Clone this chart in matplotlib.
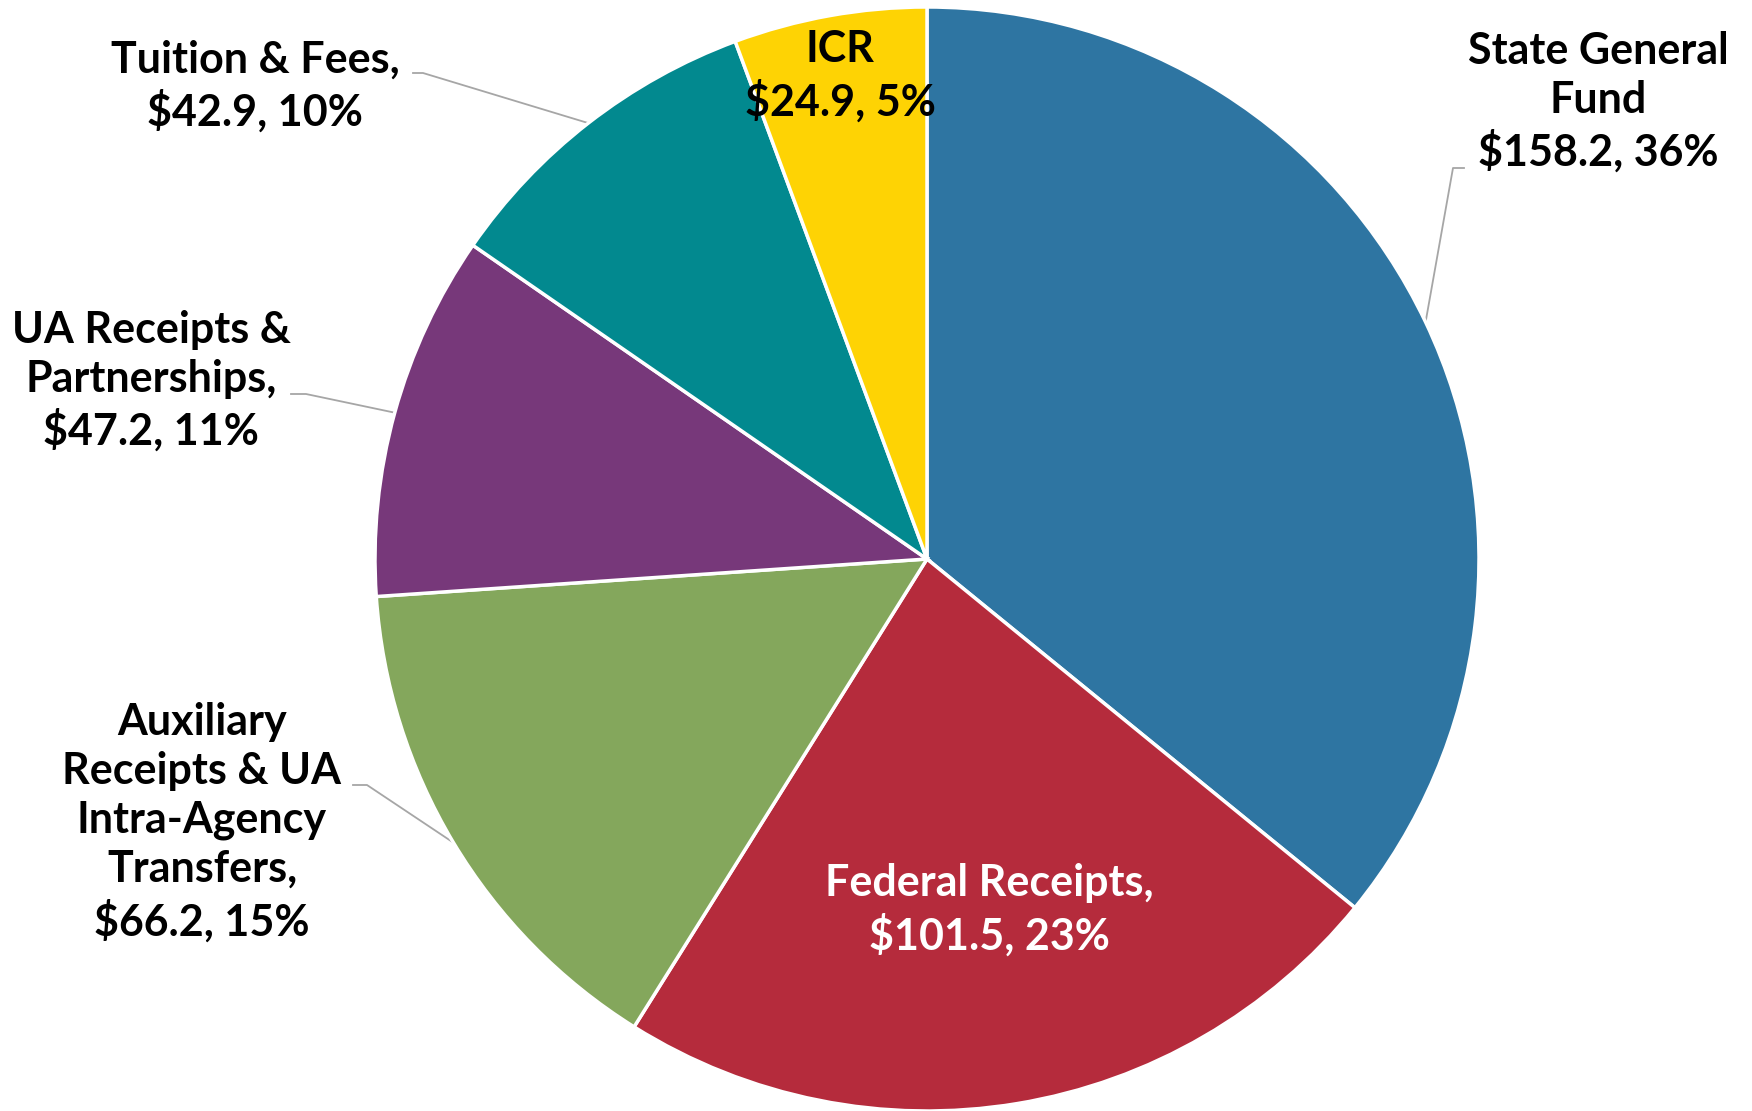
import numpy as np
import matplotlib.pyplot as plt

# revenue sources ($ millions)
sources = ["State General Fund", "Federal Receipts",
           "Auxiliary Receipts & UA Intra-Agency Transfers",
           "UA Receipts & Partnerships", "Tuition & Fees", "ICR"]
amounts = [158.2, 101.5, 66.2, 47.2, 42.9, 24.9]
pct_labels = ["36%", "23%", "15%", "11%", "10%", "5%"]
label_names = ["State General\nFund", "Federal Receipts,",
               "Auxiliary\nReceipts & UA\nIntra-Agency\nTransfers,",
               "UA Receipts &\nPartnerships,", "Tuition & Fees,", "ICR"]
colors = ["#2E75A2", "#B52B3C", "#84A75C", "#77387A", "#02898F", "#FED304"]

W, H = 1752, 1111
cx, cy, R = 927, 559, 552

fig = plt.figure(figsize=(W / 100, H / 100), dpi=100)
ax = fig.add_axes([(cx - R) / W, (H - cy - R) / H, 2 * R / W, 2 * R / H])

wedges, _ = ax.pie(amounts, colors=colors, startangle=90, counterclock=False,
                   wedgeprops=dict(edgecolor="white", linewidth=2.5))
ax.set_xlim(-1, 1)
ax.set_ylim(-1, 1)


def to_data(px, py):
    return (px - cx) / R, (cy - py) / R


# text centre (pixels) and leader elbow (pixels) per slice, None = no leader
text_pos = [(1598, 102), (989, 910), (202, 822), (151, 381), (255, 86), (840, 76)]
elbows = [((1464, 168), (1453, 168)), None, ((353, 785), (367, 785)),
          ((291, 394), (306, 394)), ((413, 73), (423, 73)), None]

for i, w in enumerate(wedges):
    mid = np.deg2rad((w.theta1 + w.theta2) / 2)
    txt = f"{label_names[i]}\n${amounts[i]:.1f}, {pct_labels[i]}"
    color = "white" if i == 1 else "black"
    tx, ty = to_data(*text_pos[i])
    ax.text(tx, ty, txt, ha="center", va="center", fontsize=31,
            fontweight="bold", family="Lato", color=color, linespacing=1.27,
            clip_on=False)
    if elbows[i] is not None:
        (ax0, ay0), (ax1, ay1) = elbows[i]
        x0, y0 = to_data(ax0, ay0)
        x1, y1 = to_data(ax1, ay1)
        ax.plot([x0, x1, np.cos(mid)], [y0, y1, np.sin(mid)],
                color="#A6A6A6", lw=1.3, clip_on=False, zorder=0)

fig.savefig("out.png", dpi=100)
